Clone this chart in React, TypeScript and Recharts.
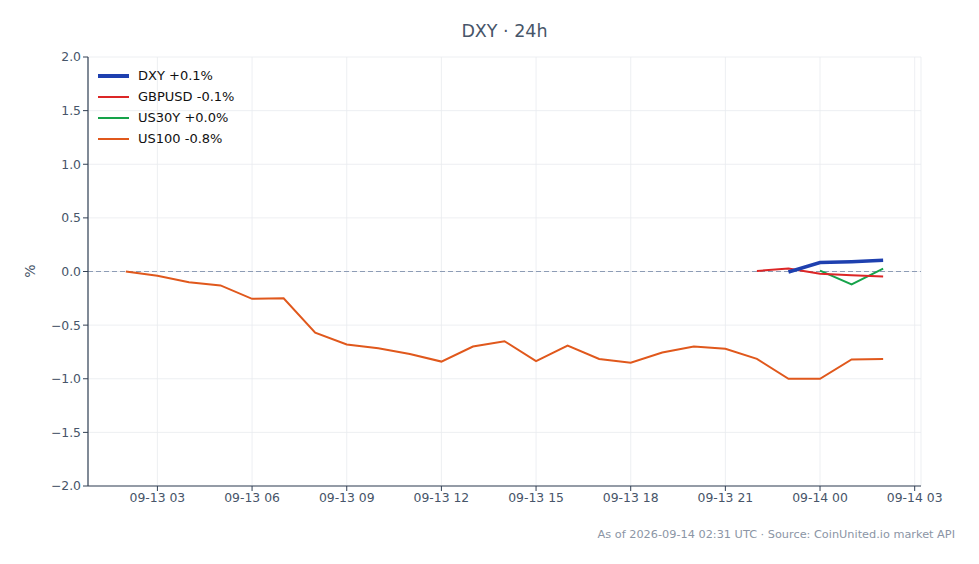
import {
  CartesianGrid,
  Line,
  LineChart,
  ReferenceLine,
  XAxis,
  YAxis,
} from "recharts";

// hours since 09-13 00:00 UTC
const HOURS = [2, 3, 4, 5, 6, 7, 8, 9, 10, 11, 12, 13, 14, 15, 16, 17, 18, 19, 20, 21, 22, 23, 24, 25, 26];

const US100 = [
  0.0, -0.04, -0.1, -0.13, -0.255, -0.25, -0.57, -0.68, -0.715, -0.77, -0.84, -0.7, -0.65,
  -0.835, -0.69, -0.815, -0.85, -0.755, -0.7, -0.72, -0.815, -1.0, -1.0, -0.82, -0.815,
];
const DXY_HOURS = [23, 24, 25, 26];
const DXY = [-0.005, 0.083, 0.092, 0.105];
const GBPUSD_HOURS = [22, 23, 24, 25, 26];
const GBPUSD = [0.005, 0.027, -0.02, -0.035, -0.046];
const US30Y_HOURS = [24, 25, 26];
const US30Y = [0.008, -0.12, 0.027];

const X_TICKS = [3, 6, 9, 12, 15, 18, 21, 24, 27];
const Y_TICKS = [-2, -1.5, -1, -0.5, 0, 0.5, 1, 1.5, 2];

const SERIES = [
  { key: "dxy", label: "DXY +0.1%", color: "#1e40af", width: 3.5 },
  { key: "gbpusd", label: "GBPUSD -0.1%", color: "#dc2626", width: 2 },
  { key: "us30y", label: "US30Y +0.0%", color: "#16a34a", width: 2 },
  { key: "us100", label: "US100 -0.8%", color: "#e0581c", width: 2 },
];

const FONT = "'DejaVu Sans', sans-serif";
const TEXT = "#475569";
const TICK_FONT = 12.4;

const pick = (hours: number[], vals: number[], h: number) => {
  const i = hours.indexOf(h);
  return i < 0 ? null : vals[i];
};

const data = HOURS.map((h, i) => ({
  h,
  us100: US100[i],
  dxy: pick(DXY_HOURS, DXY, h),
  gbpusd: pick(GBPUSD_HOURS, GBPUSD, h),
  us30y: pick(US30Y_HOURS, US30Y, h),
}));

const pad = (n: number) => String(n).padStart(2, "0");
const fmtX = (h: number) => (h < 24 ? `09-13 ${pad(h)}` : `09-14 ${pad(h - 24)}`);
const fmtY = (v: number) => v.toFixed(1).replace("-", "\u2212");

function LegendBox() {
  return (
    <div
      style={{
        position: "absolute",
        left: 98,
        top: 65,
        fontFamily: FONT,
        fontSize: 13,
        color: "#111",
      }}
    >
      {SERIES.map((s) => (
        <div key={s.key} style={{ display: "flex", alignItems: "center", height: 21 }}>
          <div
            style={{
              width: 31,
              height: s.key === "dxy" ? 4 : 2,
              background: s.color,
              marginRight: 9,
            }}
          />
          <span>{s.label}</span>
        </div>
      ))}
    </div>
  );
}

export default function App() {
  return (
    <div
      style={{
        position: "absolute",
        left: 0,
        top: 0,
        width: 979,
        height: 564,
        background: "#fff",
        fontFamily: FONT,
      }}
    >
      <div
        style={{
          position: "absolute",
          top: 21,
          left: 88,
          width: 833,
          textAlign: "center",
          fontSize: 17.5,
          color: TEXT,
        }}
      >
        DXY · 24h
      </div>
      <LineChart
        width={979}
        height={564}
        data={data}
        margin={{ top: 57, right: 58, left: 38, bottom: 48 }}
      >
        <CartesianGrid stroke="#e8ebef" strokeWidth={0.8} />
        <XAxis
          dataKey="h"
          type="number"
          domain={[0.8, 27.2]}
          ticks={X_TICKS}
          tickFormatter={fmtX}
          height={30}
          axisLine={{ stroke: "#334155", strokeWidth: 1.2 }}
          tickLine={{ stroke: "#334155" }}
          tickSize={5}
          tick={{ fill: TEXT, fontSize: TICK_FONT, fontFamily: FONT }}
          allowDataOverflow
        />
        <YAxis
          type="number"
          domain={[-2, 2]}
          ticks={Y_TICKS}
          tickFormatter={fmtY}
          width={50}
          axisLine={{ stroke: "#334155", strokeWidth: 1.2 }}
          tickLine={{ stroke: "#334155" }}
          tickSize={5}
          tick={{ fill: TEXT, fontSize: TICK_FONT, fontFamily: FONT }}
        />
        <ReferenceLine y={0} stroke="#8d9cb5" strokeDasharray="5 3" strokeWidth={1} />
        {[...SERIES].reverse().map((s) => (
          <Line
            key={s.key}
            dataKey={s.key}
            stroke={s.color}
            strokeWidth={s.width}
            dot={false}
            activeDot={false}
            connectNulls={false}
            isAnimationActive={false}
            type="linear"
          />
        ))}
      </LineChart>
      <LegendBox />
      <div
        style={{
          position: "absolute",
          left: 22,
          top: 262,
          width: 16,
          height: 18,
          lineHeight: "18px",
          textAlign: "center",
          fontSize: 14,
          color: TEXT,
          transform: "rotate(-90deg)",
        }}
      >
        %
      </div>
      <div
        style={{
          position: "absolute",
          right: 24,
          top: 528,
          fontSize: 11.3,
          color: "#8b95a5",
        }}
      >
        As of 2026-09-14 02:31 UTC · Source: CoinUnited.io market API
      </div>
    </div>
  );
}
